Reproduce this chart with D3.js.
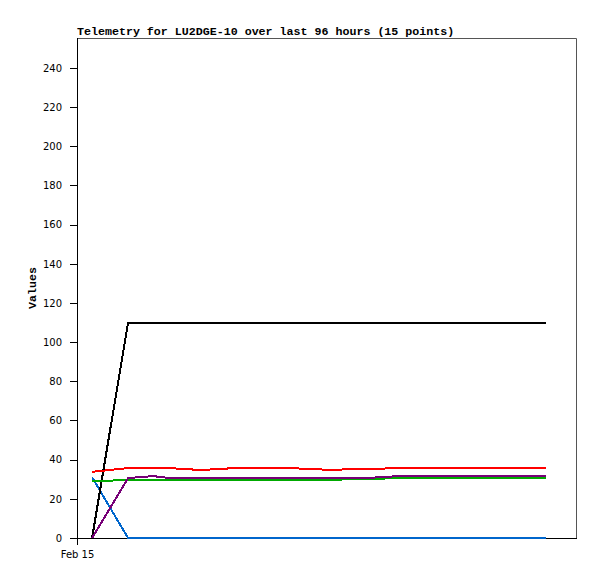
<!DOCTYPE html>
<html>
<head>
<meta charset="utf-8">
<script src="https://cdn.jsdelivr.net/npm/d3@7"></script>
<style>
  body { margin: 0; background: #fff; }
  .tick text { font-family: "DejaVu Sans", sans-serif; font-size: 10px; fill: #000; }
  .title, .ylabel { font-family: "Liberation Mono", monospace; font-weight: bold; font-size: 11.65px; }
</style>
</head>
<body>
<div id="chart"></div>
<script>
let width = 597,
    height = 579,
    margin = ({ top: 38, right: 20, bottom: 41, left: 77 });

// hours since Feb 15 00:00
const hours = [2.9, 9.8, 14.6, 17.8, 23.8, 30.3, 40.8, 49.4, 52.3, 56.7, 61.1, 67.6, 75.3, 83.0, 90.1];

const black  = [0, 110, 110, 110, 110, 110, 110, 110, 110, 110, 110, 110, 110, 110, 110];
const blue   = [31, 0, 0, 0, 0, 0, 0, 0, 0, 0, 0, 0, 0, 0, 0];
const purple = [0, 30.6, 31.6, 30.6, 30.6, 30.6, 30.6, 30.6, 30.8, 30.8, 31.5, 31.5, 31.5, 31.5, 31.5];
const green  = [29, 29.6, 29.6, 29.6, 29.6, 29.6, 29.6, 29.6, 30.1, 30.1, 30.6, 30.6, 30.6, 30.6, 30.6];
const red    = [33.8, 35.7, 35.7, 35.7, 34.7, 35.7, 35.7, 34.7, 35.2, 35.2, 35.7, 35.7, 35.7, 35.7, 35.7];

const yTicks = d3.range(0, 241, 20);
const xTickLabel = "Feb 15";

const series = [
  { color: "#0066cc", values: blue },
  { color: "#000000", values: black },
  { color: "#00aa00", values: green },
  { color: "#770077", values: purple },
  { color: "#ff0000", values: red }
];

const start = new Date(2024, 1, 15, 0, 0);
const dates = hours.map(h => new Date(start.getTime() + h * 3600e3));

const svg = d3.select("#chart")
  .append("svg")
  .attr("width", width)
  .attr("height", height);

let x = d3.scaleTime()
  .domain([start, new Date(start.getTime() + 96 * 3600e3)])
  .range([margin.left, width - margin.right]);

let y = d3.scaleLinear()
  .domain([0, 255.3])
  .range([height - margin.bottom, margin.top]);

// frame (top + right in grey)
svg.append("path")
  .attr("d", `M${margin.left},${margin.top + 0.5}H${width - margin.right - 0.5}V${height - margin.bottom}`)
  .attr("fill", "none")
  .attr("stroke", "#555")
  .attr("stroke-width", 1);

svg.append("g")
  .attr("transform", `translate(${margin.left},0)`)
  .call(d3.axisLeft(y).tickValues(yTicks).tickSize(7).tickPadding(8).tickSizeOuter(0))
  .call(g => g.select(".domain").attr("d", `M0.5,${margin.top}V${height - margin.bottom + 7}`));

svg.append("g")
  .attr("transform", `translate(0,${height - margin.bottom})`)
  .call(d3.axisBottom(x).tickValues([start]).tickFormat(() => xTickLabel).tickSize(7).tickPadding(6).tickSizeOuter(0))
  .call(g => g.select(".domain").attr("d", `M${margin.left - 7},0.5H${width - margin.right}`));

svg.selectAll(".domain, .tick line").attr("stroke", "#000").attr("shape-rendering", "crispEdges");

let line = d3.line()
  .x((d, i) => x(dates[i]))
  .y(d => y(d));

for (let s of series) {
  svg.append("path")
    .datum(s.values)
    .attr("fill", "none")
    .attr("stroke", s.color)
    .attr("stroke-width", 2)
    .attr("shape-rendering", "crispEdges")
    .attr("d", line);
}

svg.append("text")
  .attr("class", "title")
  .attr("x", margin.left)
  .attr("y", 35)
  .text("Telemetry for LU2DGE-10 over last 96 hours (15 points)");

svg.append("text")
  .attr("class", "ylabel")
  .attr("transform", `translate(36,${(margin.top + height - margin.bottom) / 2}) rotate(-90)`)
  .attr("text-anchor", "middle")
  .text("Values");
</script>
</body>
</html>
